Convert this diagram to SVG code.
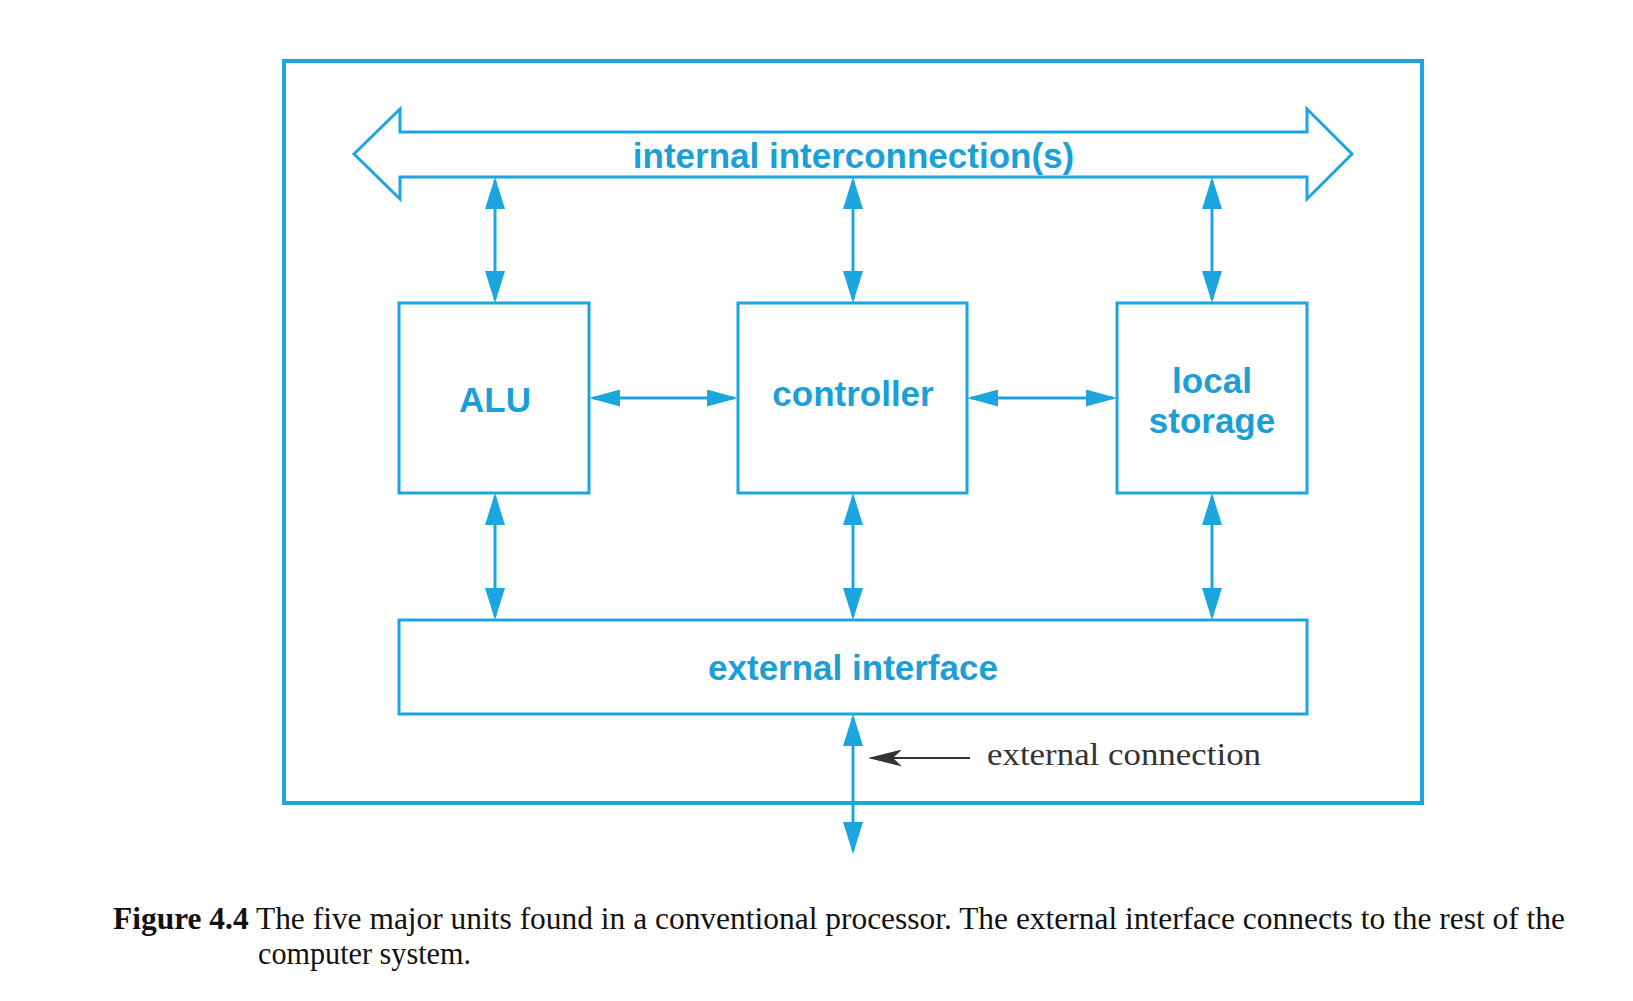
<svg xmlns="http://www.w3.org/2000/svg" width="1633" height="1001" viewBox="0 0 1633 1001">
<style>
.ln{fill:none;stroke:#1ba6df;stroke-width:3}
.frame{fill:none;stroke:#1ba6df;stroke-width:4}
.box{fill:#fff;stroke:#1ba6df;stroke-width:3}
.conn{stroke:#1ba6df;stroke-width:3;fill:none}
.lbl{font-family:"Liberation Sans",Arial,sans-serif;font-weight:bold;font-size:35px;fill:#1b9fd6;text-anchor:middle}
.note{font-family:"Liberation Serif","Times New Roman",serif;font-size:32px;fill:#333}
.cap{font-family:"Liberation Serif","Times New Roman",serif;font-size:32px;fill:#111}
</style>
<defs>
<marker id="ah" markerUnits="userSpaceOnUse" markerWidth="32" markerHeight="20" viewBox="0 0 32 20" refX="28" refY="10" orient="auto-start-reverse">
<path d="M0,0 L32,10 L0,20 z" fill="#1ba6df"/>
</marker>
<marker id="ahh" markerUnits="userSpaceOnUse" markerWidth="31" markerHeight="17" viewBox="0 0 31 17" refX="27" refY="8.5" orient="auto-start-reverse">
<path d="M0,0 L31,8.5 L0,17 z" fill="#1ba6df"/>
</marker>
<marker id="ahk" markerUnits="userSpaceOnUse" markerWidth="34" markerHeight="17" viewBox="0 0 34 17" refX="31" refY="8.5" orient="auto">
<path d="M0,0 L34,8.5 L0,17 L9,8.5 z" fill="#333"/>
</marker>
</defs>

<rect id="frame" class="frame" x="284" y="61" width="1138" height="742"/>

<g id="bus">
<path class="ln" d="M354,154 L400,109 L400,132 L1307,132 L1307,109 L1352,154 L1307,199 L1307,177 L400,177 L400,199 Z"/>
<text class="lbl" x="853.5" y="168">internal interconnection(s)</text>
</g>

<g id="alu">
<rect class="box" x="399" y="303" width="190" height="190"/>
<text class="lbl" x="495" y="412">ALU</text>
</g>

<g id="controller">
<rect class="box" x="738" y="303" width="229" height="190"/>
<text class="lbl" x="853" y="406">controller</text>
</g>

<g id="local-storage">
<rect class="box" x="1117" y="303" width="190" height="190"/>
<text class="lbl" x="1212" y="393">local</text>
<text class="lbl" x="1212" y="433">storage</text>
</g>

<g id="external-interface">
<rect class="box" x="399" y="620" width="908" height="94"/>
<text class="lbl" x="853" y="680">external interface</text>
</g>

<g id="connectors">
<line class="conn" x1="495" y1="181" x2="495" y2="299" marker-start="url(#ah)" marker-end="url(#ah)"/>
<line class="conn" x1="853" y1="181" x2="853" y2="299" marker-start="url(#ah)" marker-end="url(#ah)"/>
<line class="conn" x1="1212" y1="181" x2="1212" y2="299" marker-start="url(#ah)" marker-end="url(#ah)"/>
<line class="conn" x1="593" y1="398" x2="734" y2="398" marker-start="url(#ahh)" marker-end="url(#ahh)"/>
<line class="conn" x1="971" y1="398" x2="1113" y2="398" marker-start="url(#ahh)" marker-end="url(#ahh)"/>
<line class="conn" x1="495" y1="497" x2="495" y2="616" marker-start="url(#ah)" marker-end="url(#ah)"/>
<line class="conn" x1="853" y1="497" x2="853" y2="616" marker-start="url(#ah)" marker-end="url(#ah)"/>
<line class="conn" x1="1212" y1="497" x2="1212" y2="616" marker-start="url(#ah)" marker-end="url(#ah)"/>
<line class="conn" x1="853" y1="718" x2="853" y2="850" marker-start="url(#ah)" marker-end="url(#ah)"/>
<line x1="970" y1="758" x2="871" y2="758" stroke="#333" stroke-width="2" marker-end="url(#ahk)"/>
</g>

<text class="note" x="987" y="765" textLength="274" lengthAdjust="spacingAndGlyphs">external connection</text>

<text class="cap" x="113" y="929" textLength="1452" lengthAdjust="spacingAndGlyphs"><tspan font-weight="bold">Figure 4.4</tspan> The five major units found in a conventional processor. The external interface connects to the rest of the</text>
<text class="cap" x="258" y="964" textLength="213" lengthAdjust="spacingAndGlyphs">computer system.</text>
</svg>
